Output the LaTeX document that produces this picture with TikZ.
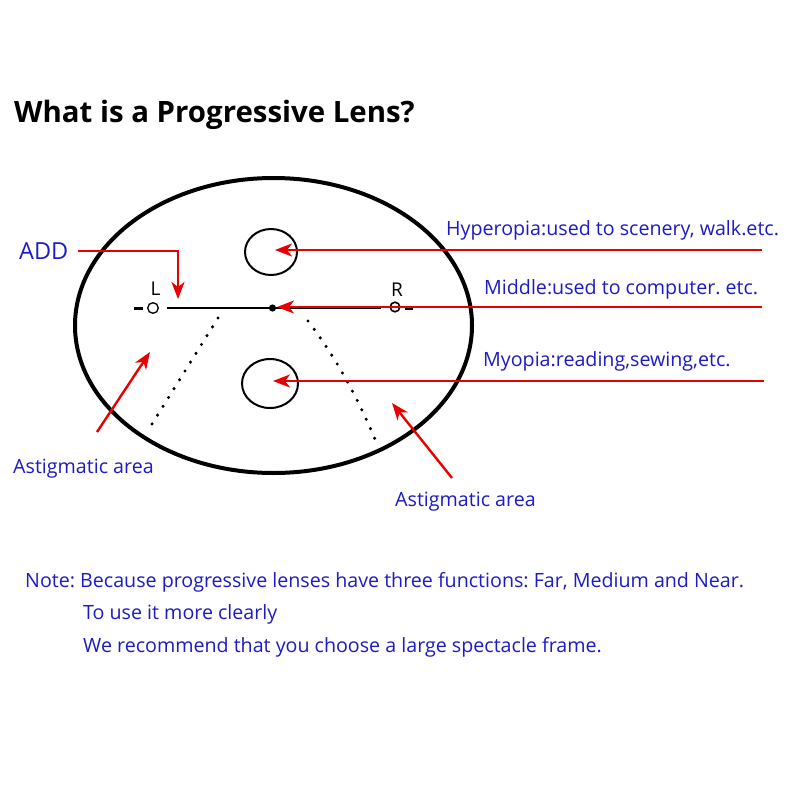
\documentclass[tikz,border=0pt]{standalone}
\usepackage{fontspec}
\setmainfont{Open Sans}
\newfontfamily\titlefont{Open Sans}
\usetikzlibrary{arrows.meta}
\definecolor{txtblue}{RGB}{28,28,196}
\definecolor{arrred}{RGB}{232,0,0}
\tikzset{
  lbl/.style={text=txtblue,font=\fontsize{19.65}{22}\selectfont,inner sep=0pt,anchor=base west},
  redarr/.style={draw=arrred,line width=2.4pt,-{Stealth[length=17pt,width=13pt,inset=5pt]}},
  lensline/.style={draw=black,line width=2pt},
  dots/.style={draw=black,line width=3.4pt,line cap=round,dash pattern=on 0pt off 10.4pt}
}
\frenchspacing
\begin{document}
\begin{tikzpicture}[x=1pt,y=-1pt]
\useasboundingbox (0,0) rectangle (800,800);
\fill[white] (0,0) rectangle (800,800);
% title
\node[anchor=base west,inner sep=0pt,font=\titlefont\bfseries\fontsize{29.4}{32}\selectfont] (title) at (14,122) {What is a Progressive Lens?};
% lens
\draw[line width=4pt] (273.5,325.5) ellipse [x radius=198.5,y radius=147.5];
\draw[lensline] (271,252) ellipse [x radius=26,y radius=23];
\draw[lensline] (270,383.5) ellipse [x radius=28,y radius=24.5];
% horizontal line
\draw[lensline] (167,308) -- (381,308);
\fill (272.5,308) circle (3.6);
% L and R
\draw[line width=1.3pt] (153,308) circle (5.3);
\draw[line width=2.4pt] (134,308.5) -- (143,308.5);
\node[font=\fontsize{19}{20}\selectfont,inner sep=0pt,anchor=base] (L) at (155.5,295) {L};
\draw[line width=1.6pt] (395,307) circle (4.8);
\draw[line width=2.4pt] (405,309) -- (413,309);
\node[font=\fontsize{19}{20}\selectfont,inner sep=0pt,anchor=base] (R) at (397,296) {R};
% dotted lines
\draw[dots] (218,318) -- (147,432);
\draw[dots] (308,321) .. controls (330,350) and (352,385) .. (375,439);
% labels
\node[lbl,font=\fontsize{23.5}{28}\selectfont] (add) at (19,259.5) {ADD};
\node[lbl] (hyp) at (446,235) {Hyperopia:used to scenery, walk.etc.};
\node[lbl] (midl) at (484,294) {Middle:used to computer. etc.};
\node[lbl] (myo) at (483,366) {Myopia:reading,sewing,etc.};
\node[lbl] (astl) at (13,473) {Astigmatic area};
\node[lbl] (astr) at (395,506) {Astigmatic area};
% arrows
\coordinate (hs) at (762,250);
\coordinate (ms) at (762,307);
\coordinate (ys) at (764,381);
\draw[redarr] (hs) -- (275,250);
\draw[redarr] (ms) -- (277,307);
\draw[redarr] (ys) -- (273,381);
\draw[redarr] (78,251) -- (178,251) -- (178,299);
\coordinate (al) at (97,432);
\coordinate (ar) at (452,478);
\draw[redarr] (al) -- (150,352);
\draw[redarr] (ar) -- (392,403);
% note
\node[lbl] (n1) at (25,587) {Note: Because progressive lenses have three functions: Far, Medium and Near.};
\node[lbl] (n2) at (83,619) {To use it more clearly};
\node[lbl] (n3) at (83,652) {We recommend that you choose a large spectacle frame.};
\end{tikzpicture}
\end{document}
